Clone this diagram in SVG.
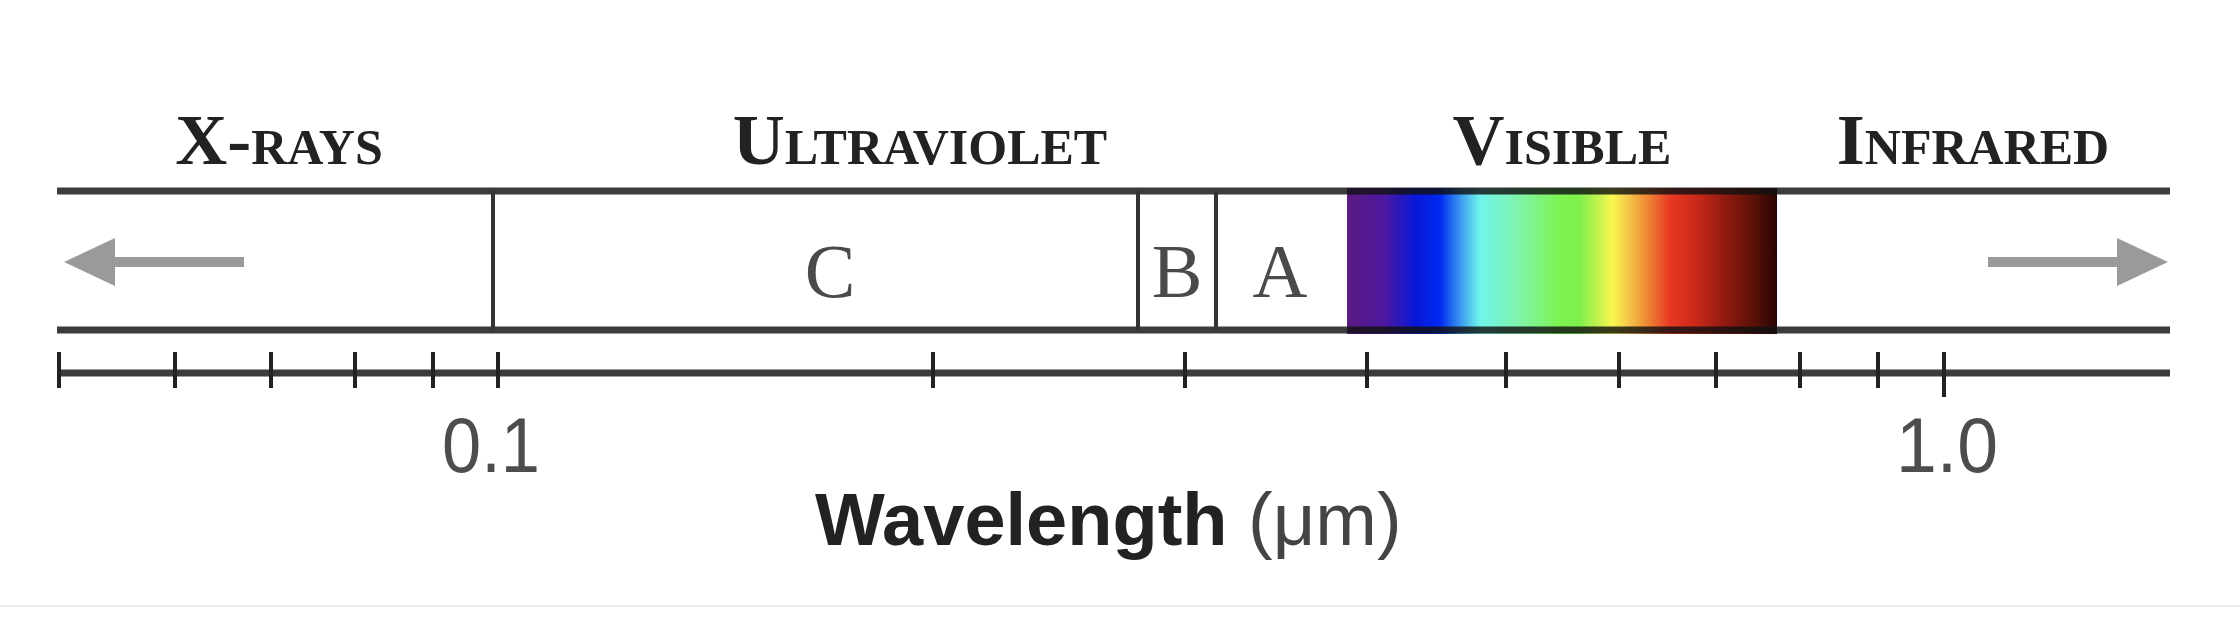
<svg xmlns="http://www.w3.org/2000/svg" width="2240" height="630" viewBox="0 0 2240 630">
  <style>
    .title { font-family: "Liberation Serif", "Times New Roman", serif; font-size: 72px; font-weight: bold; font-variant: small-caps; fill: #222; text-anchor: middle; }
    .band { font-family: "Liberation Serif", "Times New Roman", serif; font-size: 76px; fill: #4a4a4a; text-anchor: middle; }
    .num { font-family: "Liberation Sans", Arial, sans-serif; font-size: 78px; fill: #4d4d4d; text-anchor: middle; }
    .axislabel { font-family: "Liberation Sans", Arial, sans-serif; font-size: 74px; fill: #222; }
    .hline { stroke: #111; stroke-opacity: 0.82; stroke-width: 7; fill: none; }
    .sep { stroke: #333; stroke-width: 4; fill: none; }
    .tick { stroke: #222; stroke-width: 4; fill: none; }
    .arrow-shaft { stroke: #9a9a9a; stroke-width: 10; fill: none; }
    .arrow-head { fill: #9a9a9a; }
  </style>
  <defs>
    <linearGradient id="spectrum" x1="0" y1="0" x2="1" y2="0">
      <stop offset="0" stop-color="#5c1a82"/>
      <stop offset="0.088" stop-color="#4c18a0"/>
      <stop offset="0.158" stop-color="#0818d8"/>
      <stop offset="0.216" stop-color="#0028f0"/>
      <stop offset="0.267" stop-color="#40a0f0"/>
      <stop offset="0.309" stop-color="#70f4ec"/>
      <stop offset="0.402" stop-color="#80f4a8"/>
      <stop offset="0.495" stop-color="#7cf450"/>
      <stop offset="0.542" stop-color="#80f04c"/>
      <stop offset="0.588" stop-color="#c8f450"/>
      <stop offset="0.616" stop-color="#f8f850"/>
      <stop offset="0.653" stop-color="#f4c848"/>
      <stop offset="0.693" stop-color="#f09038"/>
      <stop offset="0.751" stop-color="#e83822"/>
      <stop offset="0.809" stop-color="#cc2a1a"/>
      <stop offset="0.879" stop-color="#921a10"/>
      <stop offset="0.949" stop-color="#581008"/>
      <stop offset="1" stop-color="#2a0404"/>
    </linearGradient>
  </defs>

  <rect x="0" y="0" width="2240" height="630" fill="#ffffff"/>
  <line x1="0" y1="606" x2="2240" y2="606" stroke="#eeeeee" stroke-width="2"/>

  <g id="titles">
    <text class="title" x="279" y="164">X-rays</text>
    <text class="title" x="920" y="164">Ultraviolet</text>
    <text class="title" x="1562" y="164">Visible</text>
    <text class="title" x="1973" y="164">Infrared</text>
  </g>

  <g id="visible-band">
    <rect x="1347" y="188" width="430" height="146" fill="url(#spectrum)"/>
  </g>

  <g id="frame">
    <line class="hline" x1="57" y1="191" x2="2170" y2="191"/>
    <line class="hline" x1="57" y1="330" x2="2170" y2="330"/>
  </g>

  <g id="xray-band">
    <line class="sep" x1="493" y1="191" x2="493" y2="330"/>
  </g>

  <g id="uv-c">
    <text class="band" x="830" y="297">C</text>
  </g>
  <g id="uv-b">
    <line class="sep" x1="1138" y1="191" x2="1138" y2="330"/>
    <text class="band" x="1177" y="297">B</text>
  </g>
  <g id="uv-a">
    <line class="sep" x1="1216" y1="191" x2="1216" y2="330"/>
    <text class="band" x="1280" y="297">A</text>
  </g>

  <g id="connectors">
    <line class="arrow-shaft" x1="244" y1="262" x2="110" y2="262"/>
    <polygon class="arrow-head" points="64,262 115,238 115,286"/>
    <line class="arrow-shaft" x1="1988" y1="262" x2="2122" y2="262"/>
    <polygon class="arrow-head" points="2168,262 2117,238 2117,286"/>
  </g>

  <g id="axis">
    <line class="hline" x1="57" y1="373" x2="2170" y2="373"/>
    <line class="tick" x1="59" y1="352" x2="59" y2="388"/>
    <line class="tick" x1="175" y1="352" x2="175" y2="388"/>
    <line class="tick" x1="271" y1="352" x2="271" y2="388"/>
    <line class="tick" x1="355" y1="352" x2="355" y2="388"/>
    <line class="tick" x1="433" y1="352" x2="433" y2="388"/>
    <line class="tick" x1="498" y1="352" x2="498" y2="388"/>
    <line class="tick" x1="933" y1="352" x2="933" y2="388"/>
    <line class="tick" x1="1185" y1="352" x2="1185" y2="388"/>
    <line class="tick" x1="1367" y1="352" x2="1367" y2="388"/>
    <line class="tick" x1="1506" y1="352" x2="1506" y2="388"/>
    <line class="tick" x1="1619" y1="352" x2="1619" y2="388"/>
    <line class="tick" x1="1716" y1="352" x2="1716" y2="388"/>
    <line class="tick" x1="1800" y1="352" x2="1800" y2="388"/>
    <line class="tick" x1="1878" y1="352" x2="1878" y2="388"/>
    <line class="tick" x1="1944" y1="352" x2="1944" y2="397"/>
    <text class="num" x="491" y="472" textLength="98" lengthAdjust="spacingAndGlyphs">0.1</text>
    <text class="num" x="1947" y="472" textLength="102" lengthAdjust="spacingAndGlyphs">1.0</text>
    <text class="axislabel" x="815" y="545"><tspan font-weight="bold">Wavelength</tspan> <tspan fill="#444">(μm)</tspan></text>
  </g>
</svg>
